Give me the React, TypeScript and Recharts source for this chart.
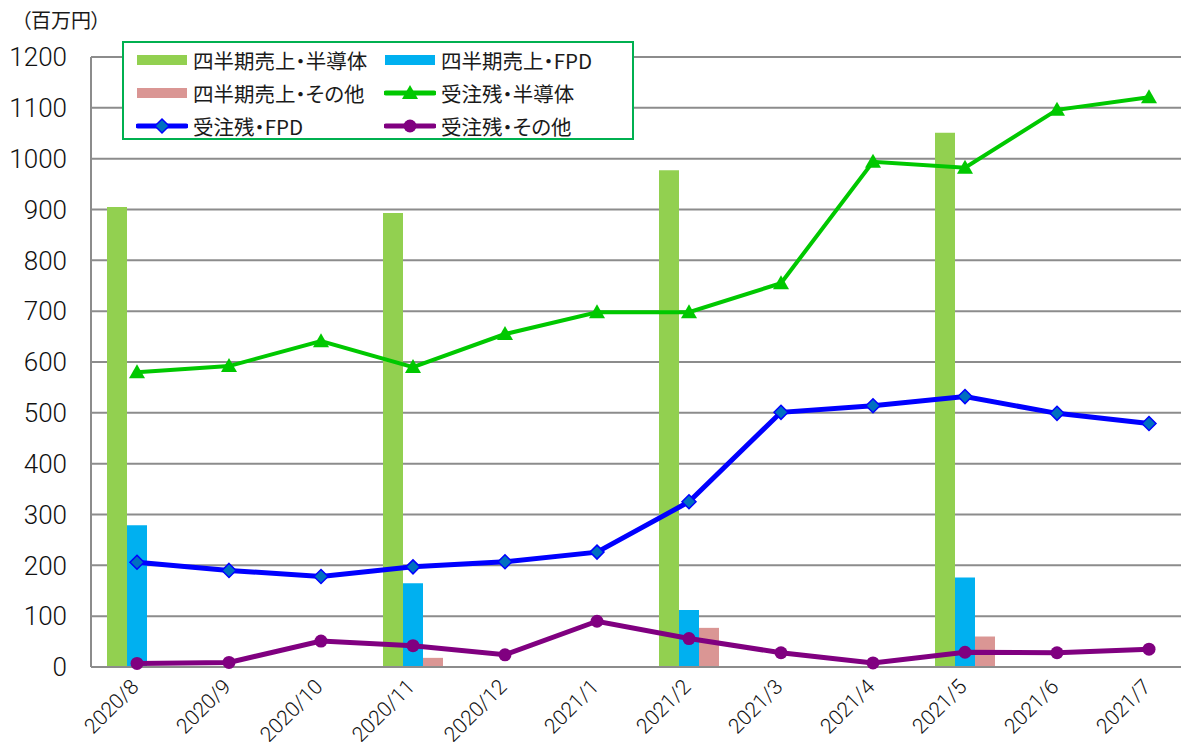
import { ComposedChart, Bar, Line, XAxis, YAxis, CartesianGrid, Legend } from 'recharts';

const months = ['2020/8', '2020/9', '2020/10', '2020/11', '2020/12', '2021/1', '2021/2', '2021/3', '2021/4', '2021/5', '2021/6', '2021/7'];

// 四半期売上 (only quarter-end months)
const salesSemi = [905, null, null, 893, null, null, 977, null, null, 1051, null, null];
const salesFpd = [279, null, null, 165, null, null, 112, null, null, 176, null, null];
const salesOther = [0, null, null, 18, null, null, 77, null, null, 60, null, null];

// 受注残
const backlogSemi = [580, 592, 641, 590, 655, 698, 698, 755, 994, 982, 1096, 1121];
const backlogFpd = [206, 190, 178, 197, 207, 226, 325, 501, 514, 532, 499, 479];
const backlogOther = [7, 9, 51, 42, 24, 90, 56, 28, 8, 29, 28, 35];

const yTicks = [0, 100, 200, 300, 400, 500, 600, 700, 800, 900, 1000, 1100, 1200];
const minorYTicks = Array.from({ length: 61 }, (_, i) => i * 20);
const boundaryTicks = [1, 2, 3, 4, 5, 6, 7, 8, 9, 10, 11];

const unitLabel = '（百万円）';
const names = {
  salesSemi: '四半期売上・半導体',
  salesFpd: '四半期売上・FPD',
  salesOther: '四半期売上・その他',
  backlogSemi: '受注残・半導体',
  backlogFpd: '受注残・FPD',
  backlogOther: '受注残・その他',
};

const data = months.map((m, i) => ({
  month: m,
  salesSemi: salesSemi[i],
  salesFpd: salesFpd[i],
  salesOther: salesOther[i],
  backlogSemi: backlogSemi[i],
  backlogFpd: backlogFpd[i],
  backlogOther: backlogOther[i],
}));

const FONT = '"Noto Sans CJK JP", "Noto Sans", sans-serif';
const NUM_FONT = 'Roboto, "Noto Sans", sans-serif';
const GRID = '#8c8c8c';
const C = {
  salesSemi: '#92d050',
  salesFpd: '#00b0f0',
  salesOther: '#da9694',
  backlogSemi: '#00c800',
  backlogFpd: '#0000ff',
  backlogOther: '#800080',
};

const Triangle = ({ cx, cy, index }: any) => (
  <polygon key={`t${index}`} points={`${cx},${cy - 8} ${cx + 8},${cy + 6} ${cx - 8},${cy + 6}`} fill={C.backlogSemi} />
);
const Diamond = ({ cx, cy, index }: any) => (
  <polygon key={`d${index}`} points={`${cx},${cy - 7} ${cx + 7},${cy} ${cx},${cy + 7} ${cx - 7},${cy}`} fill="#0070c0" stroke="#0000ff" strokeWidth={1.5} />
);
const Circle = ({ cx, cy, index }: any) => <circle key={`c${index}`} cx={cx} cy={cy} r={6.5} fill={C.backlogOther} />;

const MonthTick = ({ x, y, payload }: any) => (
  <g transform={`translate(${x + 3},${y + 13}) rotate(-45)`}>
    <text x={0} y={0} textAnchor="end" fontSize={21} fontWeight={300} fill="#111" fontFamily={NUM_FONT}>
      {payload.value}
    </text>
  </g>
);

function Swatch({ kind }: { kind: string }) {
  const col = (C as any)[kind];
  return (
    <svg width={52} height={20} style={{ display: 'block' }}>
      {kind.startsWith('sales') ? (
        <rect x={1} y={5} width={50} height={10} fill={col} />
      ) : (
        <>
          <line x1={2} y1={10} x2={50} y2={10} stroke={col} strokeWidth={5} strokeLinecap="round" />
          {kind === 'backlogSemi' && <Triangle cx={26} cy={10} index={0} />}
          {kind === 'backlogFpd' && <Diamond cx={26} cy={10} index={0} />}
          {kind === 'backlogOther' && <Circle cx={26} cy={10} index={0} />}
        </>
      )}
    </svg>
  );
}

const legendOrder = ['salesSemi', 'salesFpd', 'salesOther', 'backlogSemi', 'backlogFpd', 'backlogOther'];

function ChartLegend() {
  return (
    <div
      style={{
        width: 496,
        height: 95,
        border: '2px solid #00b050',
        background: '#fff',
        display: 'grid',
        gridTemplateColumns: '248px 248px',
        gridAutoRows: '33px',
        padding: '0 0 0 12px',
        fontFamily: FONT,
        fontSize: 20.5,
        color: '#1a1a1a',
        fontFeatureSettings: '"palt"',
        boxSizing: 'content-box',
      }}
    >
      {legendOrder.map((k) => (
        <div key={k} style={{ display: 'flex', alignItems: 'center', gap: 5 }}>
          <Swatch kind={k} />
          <span>{(names as any)[k]}</span>
        </div>
      ))}
    </div>
  );
}

export default function App() {
  return (
    <div style={{ position: 'absolute', left: 0, top: 0, width: 1181, height: 742, overflow: 'hidden', background: '#fff' }}>
      <div
        style={{
          position: 'absolute',
          left: 21,
          top: 5,
          fontFamily: FONT,
          fontSize: 20,
          color: '#1a1a1a',
          fontFeatureSettings: '"palt"',
          zIndex: 2,
        }}
      >
        {unitLabel}
      </div>
      <ComposedChart width={1200} height={742} data={data} margin={{ top: 57, right: 5, bottom: 0, left: 0 }} barGap={0} barSize={20}>
        <CartesianGrid vertical={false} stroke={GRID} strokeWidth={2} />
        <XAxis
          dataKey="month"
          height={75}
          interval={0}
          tickLine={false}
          axisLine={{ stroke: GRID, strokeWidth: 2 }}
          tick={<MonthTick />}
        />
        <XAxis
          xAxisId="bounds"
          type="number"
          domain={[0, 12]}
          allowDataOverflow
          ticks={boundaryTicks}
          mirror
          height={0}
          tickSize={8}
          tick={false}
          axisLine={false}
          tickLine={{ stroke: GRID, strokeWidth: 2 }}
        />
        <YAxis
          width={91}
          domain={[0, 1200]}
          ticks={yTicks}
          interval={0}
          tickLine={false}
          tickMargin={18}
          axisLine={{ stroke: GRID, strokeWidth: 2 }}
          tick={{ fontSize: 26, fontWeight: 300, fill: '#111', fontFamily: NUM_FONT }}
        />
        <YAxis
          yAxisId="minor"
          domain={[0, 1200]}
          allowDataOverflow
          ticks={minorYTicks}
          interval={0}
          mirror
          width={0}
          tickSize={7}
          tick={false}
          axisLine={false}
          tickLine={{ stroke: GRID, strokeWidth: 2 }}
        />
        <Legend
          layout="vertical"
          verticalAlign="middle"
          align="center"
          wrapperStyle={{ left: 122, top: 41, width: 'auto' }}
          content={() => <ChartLegend />}
        />
        <Bar dataKey="salesSemi" name={names.salesSemi} fill={C.salesSemi} isAnimationActive={false} />
        <Bar dataKey="salesFpd" name={names.salesFpd} fill={C.salesFpd} isAnimationActive={false} />
        <Bar dataKey="salesOther" name={names.salesOther} fill={C.salesOther} isAnimationActive={false} />
        <Line dataKey="backlogSemi" name={names.backlogSemi} stroke={C.backlogSemi} strokeWidth={4} dot={(p: any) => <Triangle {...p} key={`t${p.index}`} />} isAnimationActive={false} />
        <Line dataKey="backlogFpd" name={names.backlogFpd} stroke={C.backlogFpd} strokeWidth={5} dot={(p: any) => <Diamond {...p} key={`d${p.index}`} />} isAnimationActive={false} />
        <Line dataKey="backlogOther" name={names.backlogOther} stroke={C.backlogOther} strokeWidth={5} dot={(p: any) => <Circle {...p} key={`c${p.index}`} />} isAnimationActive={false} />
      </ComposedChart>
    </div>
  );
}
